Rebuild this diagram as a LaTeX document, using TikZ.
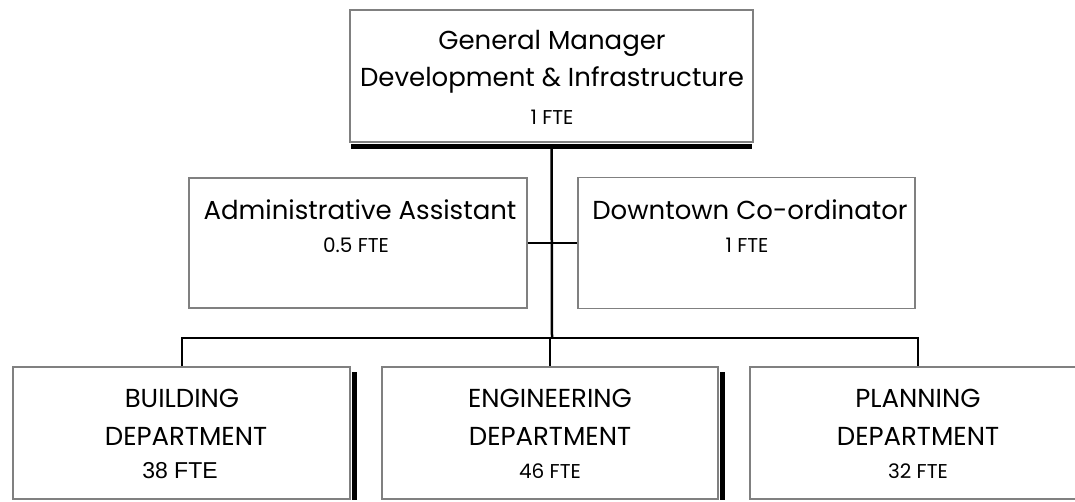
\documentclass[tikz,border=0pt]{standalone}
\usepackage{fontspec}
\setmainfont{Poppins}
\newfontfamily\ftefont{Liberation Sans}
\begin{document}
\begin{tikzpicture}[x=1pt,y=-1pt,
  box/.style={draw=black!50,line width=1.6pt,fill=white,inner sep=0pt},
  link/.style={draw=black,line width=2pt},
  shade/.style={fill=black},
  title/.style={anchor=base,inner sep=0pt,font=\fontsize{26}{26}\selectfont},
  fte/.style={anchor=base,inner sep=0pt,font=\fontsize{20}{20}\selectfont}]
\useasboundingbox (0,0) rectangle (1075,501);
\begin{scope}
\clip (0,0) rectangle (1075,501);

% boxes
\node[box,minimum width=403pt,minimum height=132pt] (gm)  at (551.5,76) {};
\node[box,minimum width=338pt,minimum height=130pt] (adm) at (358,243) {};
\node[box,minimum width=337pt,minimum height=131pt] (dtc) at (746.5,243) {};
\node[box,minimum width=337pt,minimum height=132pt] (bld) at (181.5,433) {};
\node[box,minimum width=336pt,minimum height=132pt] (eng) at (550,433) {};
\node[box,minimum width=336pt,minimum height=132pt] (pln) at (918,433) {};

% shadows
\fill[shade] ([xshift=2pt,yshift=-1pt]gm.south west) rectangle ([xshift=-2pt,yshift=-6pt]gm.south east);
\fill[shade] ([xshift=1pt,yshift=-6pt]bld.north east) rectangle ([xshift=6pt]bld.south east);
\fill[shade] ([xshift=1pt,yshift=-6pt]eng.north east) rectangle ([xshift=6pt]eng.south east);
\fill[shade] ([xshift=1pt,yshift=-6pt]pln.north east) rectangle ([xshift=6pt]pln.south east);

% connectors
\coordinate (hub) at (552,338);
\draw[link,line width=2.5pt] ([yshift=-6pt]gm.south) -- (hub);
\draw[link] (adm.east) -- (dtc.west);
\draw[link] (bld.north) |- (hub) -| (pln.north);
\draw[link] (eng.north) -- (eng.north |- hub);

% texts
\node[title] (gmA) at (552,49) {General Manager};
\node[title] (gmB) at (552,86) {Development \& Infrastructure};
\node[fte]   (gmC) at (552,124) {1 FTE};

\node[title] (admA) at (360,219) {Administrative Assistant};
\node[fte]   (admB) at (356,252) {0.5 FTE};

\node[title] (dtcA) at (750,219) {Downtown Co-ordinator};
\node[fte]   (dtcB) at (747,252) {1 FTE};

\node[title] (bldA) at (182,407) {BUILDING};
\node[title] (bldB) at (186,445) {DEPARTMENT};
\node[fte,font=\ftefont\fontsize{23}{23}\selectfont] (bldC) at (180,478) {38 FTE};

\node[title] (engA) at (550,407) {ENGINEERING};
\node[title] (engB) at (550,445) {DEPARTMENT};
\node[fte]   (engC) at (550,478) {46 FTE};

\node[title] (plnA) at (918,407) {PLANNING};
\node[title] (plnB) at (918,445) {DEPARTMENT};
\node[fte]   (plnC) at (918,478) {32 FTE};
\end{scope}
\end{tikzpicture}
\end{document}
